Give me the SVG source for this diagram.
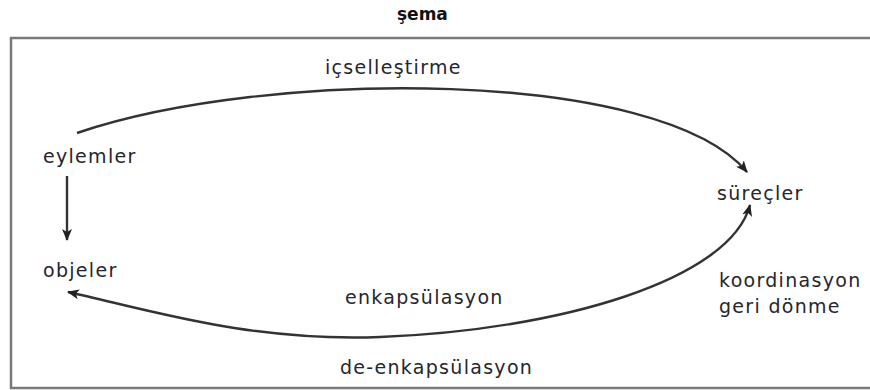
<svg xmlns="http://www.w3.org/2000/svg" width="870" height="390" viewBox="0 0 870 390">
  <style>
    .lbl { font-family: "DejaVu Sans", "Noto Sans", sans-serif; font-size: 19px; letter-spacing: 1.3px; fill: #26262e; }
    .title { font-family: "DejaVu Sans", "Noto Sans", sans-serif; font-size: 17px; font-weight: bold; fill: #111; }
    .frame { fill: none; stroke: #7a7a7a; stroke-width: 2.5; }
    .edge { fill: none; stroke: #333; stroke-width: 2.4; }
  </style>
  <defs>
    <marker id="arr" viewBox="0 0 12 10" refX="11" refY="5" markerWidth="12" markerHeight="10" markerUnits="userSpaceOnUse" orient="auto-start-reverse">
      <path d="M0,0 L12,5 L0,10 L3,5 Z" fill="#222"/>
    </marker>
  </defs>
  <rect width="870" height="390" fill="#fff"/>
  <text class="title" x="397" y="20">şema</text>
  <path class="frame" d="M880,38 H11 V388 H880"/>

  <g id="connectors">
    <path class="edge" d="M77,133 C268,68 660,68 747,172" marker-end="url(#arr)"/>
    <path class="edge" d="M750,205 C730,280 560,330 380,337 C250,342 150,310 68,292" marker-start="url(#arr)" marker-end="url(#arr)"/>
    <line class="edge" x1="67" y1="176" x2="67" y2="240" marker-end="url(#arr)"/>
    <text class="lbl" x="325" y="74">içselleştirme</text>
    <text class="lbl" x="345" y="304">enkapsülasyon</text>
    <text class="lbl" x="340" y="374">de-enkapsülasyon</text>
    <text class="lbl" x="719" y="287">koordinasyon</text>
    <text class="lbl" x="719" y="313">geri dönme</text>
  </g>

  <g id="eylemler"><text class="lbl" x="43" y="163">eylemler</text></g>
  <g id="objeler"><text class="lbl" x="43" y="277">objeler</text></g>
  <g id="surecler"><text class="lbl" x="717" y="200">süreçler</text></g>
</svg>
